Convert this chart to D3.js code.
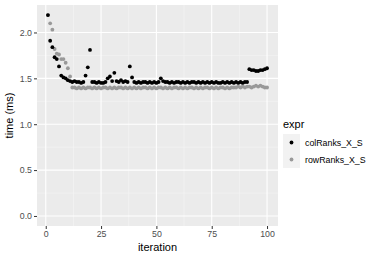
<!DOCTYPE html>
<html>
<head>
<meta charset="utf-8">
<script src="https://cdn.jsdelivr.net/npm/d3@7"></script>
<style>
  body { margin: 0; background: #fff; }
  svg text { font-family: "Liberation Sans", Arial, sans-serif; }
</style>
</head>
<body>
<div id="chart"></div>
<script>
// Benchmark timings (ms) per iteration
const seriesNames = ["colRanks_X_S", "rowRanks_X_S"];
const seriesColors = ["#000000", "#999999"];

const colRanks = [
  2.19, 1.91, 1.84, 1.73, 1.71, 1.63, 1.53, 1.51, 1.50, 1.48,
  1.47, 1.46, 1.47, 1.46, 1.46, 1.45, 1.46, 1.53, 1.62, 1.81,
  1.46, 1.46, 1.45, 1.46, 1.45, 1.45, 1.46, 1.50, 1.52, 1.47,
  1.56, 1.47, 1.46, 1.48, 1.46, 1.47, 1.46, 1.63, 1.51, 1.46,
  1.45, 1.46, 1.45, 1.46, 1.46, 1.45, 1.46, 1.45, 1.46, 1.45,
  1.46, 1.50, 1.47, 1.46, 1.46, 1.45, 1.46, 1.45, 1.46, 1.46,
  1.45, 1.46, 1.45, 1.46, 1.45, 1.46, 1.46, 1.45, 1.46, 1.45,
  1.46, 1.45, 1.46, 1.45, 1.46, 1.45, 1.46, 1.45, 1.45, 1.46,
  1.45, 1.46, 1.45, 1.46, 1.45, 1.46, 1.45, 1.46, 1.45, 1.46,
  1.46, 1.60, 1.59, 1.59, 1.58, 1.58, 1.59, 1.59, 1.60, 1.61
];

const rowRanks = [
  2.19, 2.10, 2.03, 1.82, 1.77, 1.76, 1.71, 1.71, 1.67, 1.61,
  1.52, 1.40, 1.40, 1.39, 1.40, 1.39, 1.40, 1.39, 1.40, 1.40,
  1.39, 1.40, 1.39, 1.40, 1.39, 1.40, 1.40, 1.39, 1.40, 1.39,
  1.40, 1.39, 1.40, 1.40, 1.39, 1.40, 1.39, 1.40, 1.39, 1.40,
  1.39, 1.40, 1.39, 1.40, 1.40, 1.39, 1.40, 1.39, 1.40, 1.39,
  1.40, 1.40, 1.39, 1.40, 1.39, 1.40, 1.39, 1.40, 1.40, 1.39,
  1.40, 1.39, 1.40, 1.39, 1.40, 1.40, 1.39, 1.40, 1.39, 1.40,
  1.39, 1.40, 1.40, 1.39, 1.40, 1.39, 1.40, 1.39, 1.40, 1.40,
  1.39, 1.40, 1.39, 1.40, 1.40, 1.40, 1.41, 1.40, 1.41, 1.40,
  1.41, 1.41, 1.40, 1.41, 1.42, 1.41, 1.42, 1.41, 1.40, 1.40
];

const xTicks = [0, 25, 50, 75, 100];
const yTicks = [0.0, 0.5, 1.0, 1.5, 2.0];

const width = 390;
const height = 260;
const panel = { left: 37, right: 278, top: 5, bottom: 226 };
const pointR = 1.9;

const svg = d3.select("#chart").append("svg")
    .attr("width", width)
    .attr("height", height);

// Scales (ggplot-style 5% expansion)
const n = colRanks.length;
const xPad = (n - 1) * 0.05;
const x = d3.scaleLinear()
    .domain([1 - xPad, n + xPad])
    .range([panel.left, panel.right]);

const yMax = d3.max(colRanks.concat(rowRanks));
const yPad = yMax * 0.05;
const y = d3.scaleLinear()
    .domain([0 - yPad, yMax + yPad])
    .range([panel.bottom, panel.top]);

// Panel background
svg.append("rect")
    .attr("x", panel.left)
    .attr("y", panel.top)
    .attr("width", panel.right - panel.left)
    .attr("height", panel.bottom - panel.top)
    .attr("fill", "#ebebeb");

// Minor grid lines
const xMinor = xTicks.slice(0, -1).map((d, i) => (d + xTicks[i + 1]) / 2);
const yMinor = yTicks.slice(0, -1).map((d, i) => (d + yTicks[i + 1]) / 2);

const grid = svg.append("g").attr("class", "grid");
grid.selectAll(".xminor").data(xMinor).enter().append("line")
    .attr("x1", d => x(d)).attr("x2", d => x(d))
    .attr("y1", panel.top).attr("y2", panel.bottom)
    .attr("stroke", "#f5f5f5").attr("stroke-width", 0.6);
grid.selectAll(".yminor").data(yMinor).enter().append("line")
    .attr("y1", d => y(d)).attr("y2", d => y(d))
    .attr("x1", panel.left).attr("x2", panel.right)
    .attr("stroke", "#f5f5f5").attr("stroke-width", 0.6);

// Major grid lines
grid.selectAll(".xmajor").data(xTicks).enter().append("line")
    .attr("x1", d => x(d)).attr("x2", d => x(d))
    .attr("y1", panel.top).attr("y2", panel.bottom)
    .attr("stroke", "#ffffff").attr("stroke-width", 1.1);
grid.selectAll(".ymajor").data(yTicks).enter().append("line")
    .attr("y1", d => y(d)).attr("y2", d => y(d))
    .attr("x1", panel.left).attr("x2", panel.right)
    .attr("stroke", "#ffffff").attr("stroke-width", 1.1);

// Axes
const xAxis = svg.append("g")
    .attr("transform", `translate(0, ${panel.bottom})`)
    .call(d3.axisBottom(x).tickValues(xTicks).tickSize(3).tickPadding(2).tickFormat(d3.format("d")));
const yAxis = svg.append("g")
    .attr("transform", `translate(${panel.left}, 0)`)
    .call(d3.axisLeft(y).tickValues(yTicks).tickSize(3).tickPadding(2).tickFormat(d3.format(".1f")));

[xAxis, yAxis].forEach(ax => {
    ax.select(".domain").remove();
    ax.selectAll(".tick line").attr("stroke", "#333333").attr("stroke-width", 1);
    ax.selectAll(".tick text").attr("fill", "#4d4d4d").attr("font-size", "8.8px");
});

// Points: draw rowRanks first, then colRanks on top
const pointsData = [
    { name: seriesNames[1], color: seriesColors[1], values: rowRanks },
    { name: seriesNames[0], color: seriesColors[0], values: colRanks }
];

pointsData.forEach(s => {
    svg.append("g").selectAll("circle")
        .data(s.values)
        .enter().append("circle")
        .attr("cx", (d, i) => x(i + 1))
        .attr("cy", d => y(d))
        .attr("r", pointR)
        .attr("fill", s.color);
});

// Axis titles
svg.append("text")
    .attr("x", (panel.left + panel.right) / 2)
    .attr("y", 251)
    .attr("text-anchor", "middle")
    .attr("font-size", "11px")
    .attr("fill", "#000")
    .text("iteration");

const yLabelX = 13;
const yLabelY = (panel.top + panel.bottom) / 2;
svg.append("text")
    .attr("x", yLabelX)
    .attr("y", yLabelY)
    .attr("text-anchor", "middle")
    .attr("transform", `rotate(-90, ${yLabelX}, ${yLabelY})`)
    .attr("font-size", "11px")
    .attr("fill", "#000")
    .text("time (ms)");

// Legend
const legend = svg.append("g").attr("transform", "translate(283, 0)");
legend.append("text")
    .attr("x", 0)
    .attr("y", 128)
    .attr("font-size", "11px")
    .attr("fill", "#000")
    .text("expr");

seriesNames.forEach((name, i) => {
    const ky = 134 + i * 17;
    legend.append("rect")
        .attr("x", 0).attr("y", ky)
        .attr("width", 17).attr("height", 17)
        .attr("fill", "#f2f2f2");
    legend.append("circle")
        .attr("cx", 8.5).attr("cy", ky + 8.5)
        .attr("r", pointR)
        .attr("fill", seriesColors[i]);
    legend.append("text")
        .attr("x", 22).attr("y", ky + 8.5)
        .attr("dy", "0.35em")
        .attr("font-size", "8.8px")
        .attr("fill", "#000")
        .text(name);
});
</script>
</body>
</html>
